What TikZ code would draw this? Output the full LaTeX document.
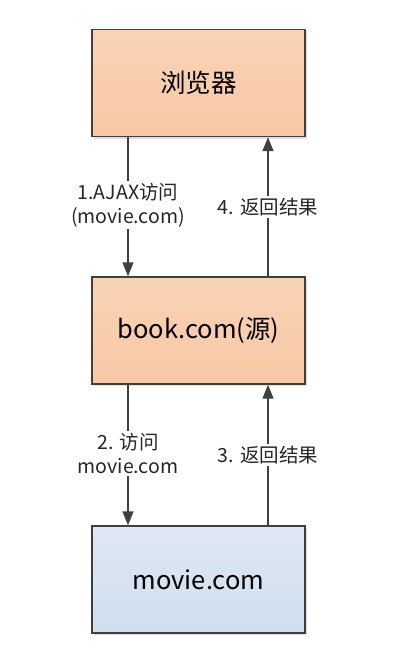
\documentclass[tikz,border=0pt]{standalone}
\usepackage{fontspec}
\setmainfont{Noto Sans CJK SC}
\usetikzlibrary{arrows.meta,shadows}
\definecolor{boxline}{HTML}{404040}
\definecolor{orangetop}{HTML}{F9D3B6}
\definecolor{orangebot}{HTML}{F8C8A5}
\definecolor{bluetop}{HTML}{DFE8F3}
\definecolor{bluebot}{HTML}{CFDEEE}
\tikzset{
  hostbox/.style={draw=boxline, line width=1.4pt, minimum width=213pt, minimum height=107pt,
    font=\fontsize{25.5}{30}\selectfont, drop shadow={opacity=0.25, shadow xshift=2pt, shadow yshift=-2pt}},
  srcbox/.style={hostbox, top color=orangetop, bottom color=orangebot},
  dstbox/.style={hostbox, top color=bluetop, bottom color=bluebot},
  flow/.style={draw=boxline, line width=1.4pt, -{Triangle[length=14pt,width=11pt]}},
  steplabel/.style={fill=white, inner sep=2pt, align=center, font=\fontsize{19.5}{24}\selectfont, text=black!85}
}
\begin{document}
\begin{tikzpicture}[x=1pt,y=-1pt]
\useasboundingbox (0,0) rectangle (415,650);
\node[srcbox] (browser) at (198.5,83) {浏览器};
\node[srcbox] (book) at (198.5,330.5) {book.com(源)};
\node[dstbox] (movie) at (198.5,579.5) {movie.com};
% requests going down, answers going up
\draw[flow] (browser.south -| 128,0) -- (book.north -| 128,0) node[steplabel, pos=0.49] {1.AJAX访问\\(movie.com)};
\draw[flow] (book.north -| 268,0) -- (browser.south -| 268,0) node[steplabel, pos=0.5] {4. 返回结果};
\draw[flow] (book.south -| 128,0) -- (movie.north -| 128,0) node[steplabel, pos=0.49] {2. 访问\\movie.com};
\draw[flow] (movie.north -| 268,0) -- (book.south -| 268,0) node[steplabel, pos=0.5] {3. 返回结果};
\end{tikzpicture}
\end{document}
